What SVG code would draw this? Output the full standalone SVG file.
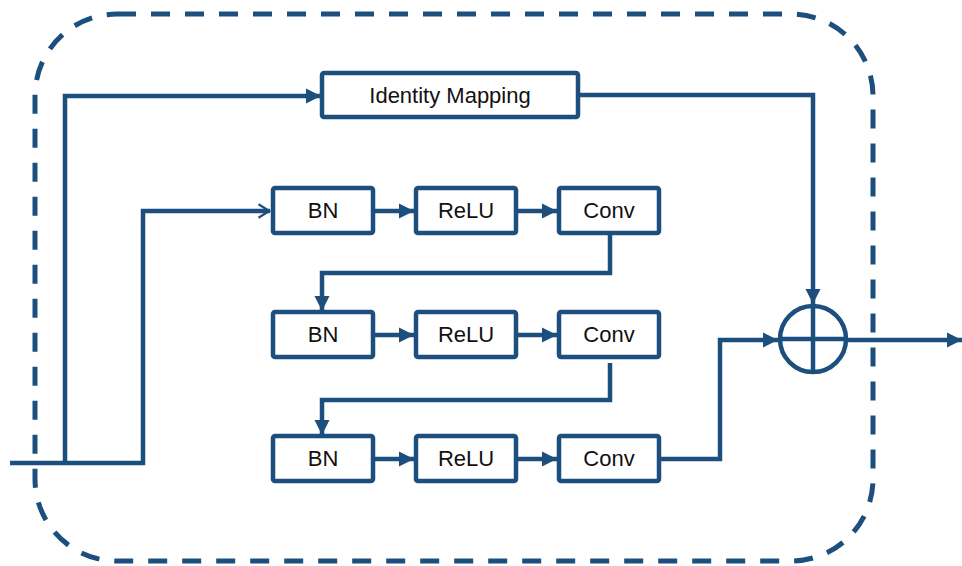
<svg xmlns="http://www.w3.org/2000/svg" width="962" height="566" viewBox="0 0 962 566">
<defs>
<style>
.box{fill:#fff;stroke:#1d4f7e;stroke-width:4.5;}
.lbl{font-family:"Liberation Sans",Arial,sans-serif;font-size:22px;fill:#111;text-anchor:middle;}
.ln{fill:none;stroke:#1d4f7e;stroke-width:4.5;stroke-linejoin:miter;}
.arr{marker-end:url(#tri);}
</style>
<marker id="tri" viewBox="0 0 10 10" refX="10" refY="5" markerWidth="3.4" markerHeight="3.4" markerUnits="strokeWidth" orient="auto">
<path d="M0,0 L10,5 L0,10 z" fill="#1d4f7e"/>
</marker>
<marker id="open" viewBox="0 0 12 12" refX="10.5" refY="6" markerWidth="3.6" markerHeight="3.6" markerUnits="strokeWidth" orient="auto">
<path d="M2,1 L10,6 L2,11" fill="none" stroke="#1d4f7e" stroke-width="1.6"/>
</marker>
</defs>
<rect x="0" y="0" width="962" height="566" fill="#fff"/>
<rect id="border" x="35" y="14" width="838" height="547" rx="82" ry="82" fill="none" stroke="#1d4f7e" stroke-width="5" stroke-dasharray="19 15"/>
<g id="connectors">
<path class="ln" d="M10,463 H143 V211 H270" marker-end="url(#open)"/>
<path class="ln arr" d="M65,463 V96 H321"/>
<path class="ln arr" d="M578,95 H813 V304"/>
<path class="ln arr" d="M373,211 H414"/>
<path class="ln arr" d="M516,211 H557"/>
<path class="ln arr" d="M610,234 V273 H322 V311"/>
<path class="ln arr" d="M373,335 H414"/>
<path class="ln arr" d="M516,335 H557"/>
<path class="ln arr" d="M610,363 V400 H322 V435"/>
<path class="ln arr" d="M373,459 H414"/>
<path class="ln arr" d="M516,459 H557"/>
<path class="ln arr" d="M659,459 H720 V340 H778"/>
<path class="ln arr" d="M847,340 H962"/>
</g>
<g id="identity"><rect class="box" x="322" y="73" width="256" height="44" rx="2"/><text class="lbl" x="450" y="103">Identity Mapping</text></g>
<g id="bn1"><rect class="box" x="273" y="188" width="100" height="45" rx="2"/><text class="lbl" x="323" y="218">BN</text></g>
<g id="relu1"><rect class="box" x="416" y="188" width="100" height="45" rx="2"/><text class="lbl" x="466" y="218">ReLU</text></g>
<g id="conv1"><rect class="box" x="559" y="188" width="100" height="45" rx="2"/><text class="lbl" x="609" y="218">Conv</text></g>
<g id="bn2"><rect class="box" x="273" y="312" width="100" height="45" rx="2"/><text class="lbl" x="323" y="342">BN</text></g>
<g id="relu2"><rect class="box" x="416" y="312" width="100" height="45" rx="2"/><text class="lbl" x="466" y="342">ReLU</text></g>
<g id="conv2"><rect class="box" x="559" y="312" width="100" height="45" rx="2"/><text class="lbl" x="609" y="342">Conv</text></g>
<g id="bn3"><rect class="box" x="273" y="436" width="100" height="45" rx="2"/><text class="lbl" x="323" y="466">BN</text></g>
<g id="relu3"><rect class="box" x="416" y="436" width="100" height="45" rx="2"/><text class="lbl" x="466" y="466">ReLU</text></g>
<g id="conv3"><rect class="box" x="559" y="436" width="100" height="45" rx="2"/><text class="lbl" x="609" y="466">Conv</text></g>
<g id="sum">
<circle cx="813" cy="339" r="33" fill="#fff" stroke="#1d4f7e" stroke-width="4.5"/>
<path class="ln" d="M780,339 H846 M813,306 V372"/>
</g>
</svg>
